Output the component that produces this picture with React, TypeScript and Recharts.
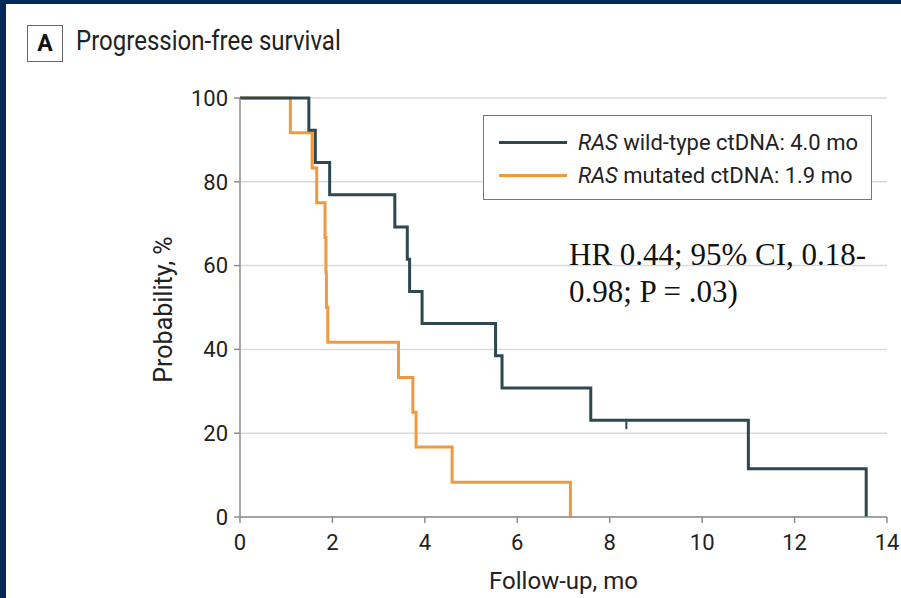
import React from 'react';
import { LineChart, Line, XAxis, YAxis, CartesianGrid, Legend, Label } from 'recharts';

// Kaplan-Meier steps (months, % progression-free)
const WILD_TIME = [0, 1.49, 1.63, 1.94, 3.35, 3.62, 3.67, 3.94, 5.53, 5.67, 7.59, 8.36, 11.0, 13.55];
const WILD_PROB = [100, 92.3, 84.6, 76.9, 69.2, 61.5, 53.8, 46.2, 38.5, 30.8, 23.1, 23.1, 11.5, 0];
const WILD_CENSORED = [8.36];

const MUT_TIME = [0, 1.09, 1.56, 1.66, 1.84, 1.86, 1.87, 1.9, 3.43, 3.74, 3.81, 4.59, 7.15];
const MUT_PROB = [100, 91.7, 83.3, 75, 66.7, 58.3, 50, 41.7, 33.3, 25, 16.7, 8.3, 0];

const X_TICKS = [0, 2, 4, 6, 8, 10, 12, 14];
const Y_TICKS = [0, 20, 40, 60, 80, 100];

const SERIES = [
  { key: 'wild', label: 'wild-type ctDNA: 4.0 mo', color: '#2e4852' },
  { key: 'mut', label: 'mutated ctDNA: 1.9 mo', color: '#ef9a3e' },
];

const SANS = 'Roboto, "Noto Sans", sans-serif';
const AXIS = '#8c8c8c';

const wildData = WILD_TIME.map((t, i) => ({ t, p: WILD_PROB[i], censored: WILD_CENSORED.includes(t) }));
const mutData = MUT_TIME.map((t, i) => ({ t, p: MUT_PROB[i] }));

function CensorMark(props: any) {
  const { cx, cy, payload, index } = props;
  if (!payload?.censored) return <g key={index} />;
  return <line key={index} x1={cx} x2={cx} y1={cy} y2={cy + 9} stroke="#2e4852" strokeWidth={2} />;
}

function LegendBox() {
  return (
    <div style={{
      border: '1.5px solid #777',
      background: '#fff',
      width: 389,
      height: 85,
      boxSizing: 'border-box',
      padding: '10px 0 0 15px',
      fontFamily: SANS,
      fontSize: 22,
      color: '#222',
    }}>
      {SERIES.map((s) => (
        <div key={s.key} style={{ display: 'flex', alignItems: 'center', height: 33 }}>
          <span style={{ width: 68, height: 3, background: s.color, marginRight: 11, flexShrink: 0 }} />
          <span><i>RAS</i> {s.label}</span>
        </div>
      ))}
    </div>
  );
}

export default function App() {
  return (
    <div style={{
      position: 'absolute', left: 0, top: 0, width: 901, height: 598,
      background: '#fff', overflow: 'hidden', fontFamily: SANS,
    }}>
      <div style={{ position: 'absolute', left: 0, top: 0, width: 6, height: 598, background: '#03295b' }} />
      <div style={{ position: 'absolute', left: 0, top: 0, width: 901, height: 4, background: '#03295b' }} />

      {/* panel title */}
      <div style={{
        position: 'absolute', left: 27, top: 25, width: 36, height: 37, boxSizing: 'border-box',
        border: '1.5px solid #666', fontWeight: 700, fontSize: 23, color: '#111',
        display: 'flex', alignItems: 'center', justifyContent: 'center',
      }}>A</div>
      <div style={{
        position: 'absolute', left: 76, top: 25, fontSize: 27, lineHeight: '32px', color: '#222',
        transform: 'scaleX(0.89)', transformOrigin: 'left center', whiteSpace: 'nowrap',
      }}>
        Progression-free survival
      </div>

      <LineChart width={901} height={598} margin={{ top: 98, right: 14, left: 0, bottom: 0 }}>
        <CartesianGrid horizontal vertical={false} stroke="#dadada" strokeWidth={1.5} />
        <XAxis
          type="number"
          dataKey="t"
          domain={[0, 14]}
          ticks={X_TICKS}
          height={81}
          tick={{ fill: '#222', fontSize: 22, fontFamily: SANS }}
          axisLine={{ stroke: AXIS, strokeWidth: 1.5 }}
          tickLine={{ stroke: AXIS, strokeWidth: 1.5 }}
          tickSize={6}
          tickMargin={11}
        >
          <Label value="Follow-up, mo" position="insideBottom" offset={9} fill="#222" fontSize={24} fontFamily={SANS} />
        </XAxis>
        <YAxis
          type="number"
          domain={[0, 100]}
          ticks={Y_TICKS}
          width={240}
          tick={{ fill: '#222', fontSize: 22, fontFamily: SANS }}
          axisLine={{ stroke: AXIS, strokeWidth: 1.5 }}
          tickLine={{ stroke: AXIS, strokeWidth: 1.5 }}
          tickSize={6}
          tickMargin={6}
        >
          <Label
            content={(props: any) => {
              const vb = props.viewBox || { x: 0, y: 98, width: 240, height: 419 };
              const cx = 163;
              const cy = vb.y + vb.height / 2 + 2;
              return (
                <text x={cx} y={cy} transform={`rotate(-90 ${cx} ${cy})`} textAnchor="middle"
                  dominantBaseline="central" fill="#222" fontSize={25} fontFamily={SANS}>
                  Probability, %
                </text>
              );
            }}
          />
        </YAxis>
        <Legend
          layout="vertical"
          align="center"
          verticalAlign="middle"
          content={() => <LegendBox />}
          wrapperStyle={{ left: 483, top: 115, width: 389, height: 85 }}
        />
        <Line
          data={mutData}
          dataKey="p"
          type="stepAfter"
          stroke={SERIES[1].color}
          strokeWidth={3}
          dot={false}
          activeDot={false}
          isAnimationActive={false}
        />
        <Line
          data={wildData}
          dataKey="p"
          type="stepAfter"
          stroke={SERIES[0].color}
          strokeWidth={3}
          dot={CensorMark}
          activeDot={false}
          isAnimationActive={false}
        />
      </LineChart>

      <div style={{
        position: 'absolute', left: 569, top: 236, fontFamily: '"Liberation Serif", "Times New Roman", serif',
        fontSize: 31, lineHeight: '37px', color: '#111', whiteSpace: 'nowrap',
      }}>
        HR 0.44; 95% CI, 0.18-<br />0.98; P = .03)
      </div>
    </div>
  );
}
